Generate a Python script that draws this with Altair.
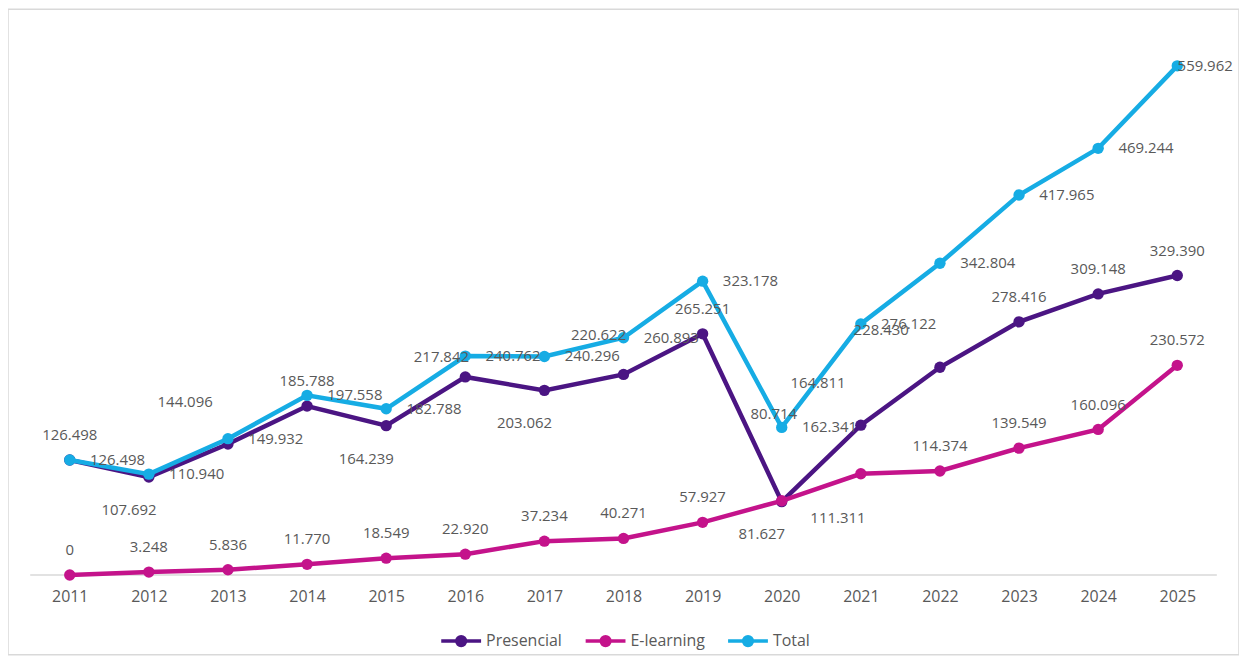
import altair as alt
import pandas as pd

years = [2011, 2012, 2013, 2014, 2015, 2016, 2017, 2018, 2019, 2020, 2021, 2022, 2023, 2024, 2025]
presencial = [126498, 107692, 144096, 185788, 164239, 217842, 203062, 220622, 265251, 80714,
              164811, 228430, 278416, 309148, 329390]
elearning = [0, 3248, 5836, 11770, 18549, 22920, 37234, 40271, 57927, 81627,
             111311, 114374, 139549, 160096, 230572]
total = [126498, 110940, 149932, 197558, 182788, 240762, 240296, 260893, 323178, 162341,
         276122, 342804, 417965, 469244, 559962]
series_names = ["Presencial", "E-learning", "Total"]
series_colors = ["#4B1583", "#C4138B", "#16ACE4"]

# label placement codes (style only)
pres_place = ["R", "B", "TL", "T", "B", "TLb", "B", "TLa", "T", "TLd", "TL", "TLc", "T", "T", "T"]
elearn_place = ["T", "T", "T", "T", "T", "T", "T", "T", "T", "B", "Bb", "T", "T", "T", "T"]
total_place = ["T", "R", "R", "R", "R", "R", "R", "R", "R", "R", "R", "R", "R", "R", "R2"]

place_style = {
    "T": dict(dx=0, dy=-25, align="center"),
    "R": dict(dx=48, dy=0, align="center"),
    "R2": dict(dx=28, dy=0, align="center"),
    "B": dict(dx=-20, dy=33, align="center"),
    "Bb": dict(dx=-23, dy=44, align="center"),
    "TL": dict(dx=-43, dy=-42, align="center"),
    "TLa": dict(dx=-25, dy=-40, align="center"),
    "TLb": dict(dx=-24, dy=-20, align="center"),
    "TLc": dict(dx=-59, dy=-37, align="center"),
    "TLd": dict(dx=-8, dy=-88, align="center"),
}


def fmt(v):
    return f"{v:,}".replace(",", ".")


rows = []
for name, vals, places in zip(series_names, [presencial, elearning, total],
                              [pres_place, elearn_place, total_place]):
    for y, v, p in zip(years, vals, places):
        rows.append({"year": y, "value": v, "series": name, "label": fmt(v), "place": p})
df = pd.DataFrame(rows)

base_df = pd.DataFrame({"x": [years[0] - 0.5], "x2": [years[-1] + 0.5], "y": [0]})

W, H = 1236, 648
px_per_year = 79.43
x0 = 62  # pixel of first year inside view
xmin = years[0] - x0 / px_per_year
xmax = years[0] + (W - x0) / px_per_year
px_per_unit = 0.913 / 1000
zero_px = 568
ymax = zero_px / px_per_unit
ymin = -(H - zero_px) / px_per_unit

xscale = alt.Scale(domain=[xmin, xmax], nice=False, zero=False)
yscale = alt.Scale(domain=[ymin, ymax], nice=False, zero=False)

FONT = "Open Sans"
GREY = "#595959"

legend_path = ("M-1,0L1,0M-0.22,0A0.22,0.22,0,1,1,0.22,0A0.22,0.22,0,1,1,-0.22,0"
               "M-0.1,0A0.1,0.1,0,1,1,0.1,0A0.1,0.1,0,1,1,-0.1,0")

color = alt.Color(
    "series:N",
    scale=alt.Scale(domain=series_names, range=series_colors),
    legend=alt.Legend(
        title=None, orient="none", direction="horizontal",
        legendX=433, legendY=612,
        symbolType=legend_path, symbolSize=1600, symbolStrokeWidth=3.5,
        labelFont=FONT, labelFontSize=16, labelColor=GREY, labelOffset=3,
        columnPadding=16, symbolOffset=0,
    ),
)

xaxis = alt.Axis(values=years, format="d", title=None, ticks=False, domain=False, grid=False,
                 labelFont=FONT, labelFontSize=16, labelColor=GREY, labelPadding=14,
                 offset=-(H - zero_px))

baseline = alt.Chart(base_df).mark_rule(color="#D9D9D9", strokeWidth=1.5).encode(
    x=alt.X("x:Q", scale=xscale, axis=xaxis),
    x2="x2:Q",
    y=alt.Y("y:Q", scale=yscale, axis=None),
)

layers = [baseline]
for name in series_names:
    sub = alt.Chart(df).transform_filter(alt.datum.series == name)
    layers.append(sub.mark_line(strokeWidth=4.5).encode(
        x=alt.X("year:Q", scale=xscale, axis=xaxis),
        y=alt.Y("value:Q", scale=yscale, axis=None),
        color=color,
    ))
    layers.append(sub.mark_point(filled=True, size=130, opacity=1).encode(
        x=alt.X("year:Q", scale=xscale, axis=xaxis),
        y=alt.Y("value:Q", scale=yscale, axis=None),
        color=color,
    ))

for code, st in place_style.items():
    layers.append(alt.Chart(df).transform_filter(alt.datum.place == code).mark_text(
        font=FONT, fontSize=15, color=GREY, baseline="middle", **st
    ).encode(
        x=alt.X("year:Q", scale=xscale, axis=xaxis),
        y=alt.Y("value:Q", scale=yscale, axis=None),
        text="label:N",
    ))

chart = alt.layer(*layers).properties(
    width=W, height=H, autosize=alt.AutoSizeParams(type="none"), padding=0,
    background="white",
).configure_view(stroke="#D9D9D9", strokeWidth=1.5)

chart.save("out.html", embed_options={"renderer": "svg", "actions": False})
